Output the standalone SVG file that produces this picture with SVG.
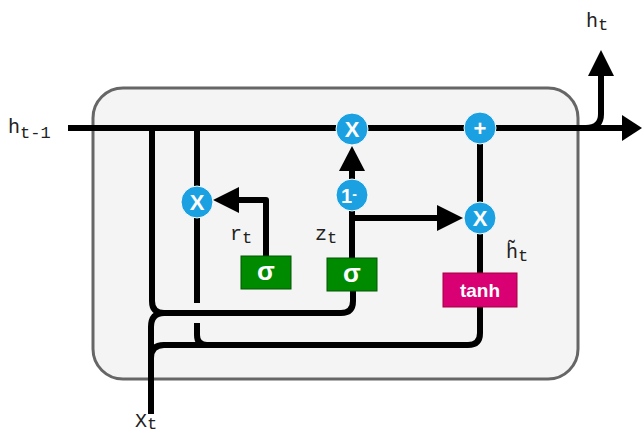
<svg xmlns="http://www.w3.org/2000/svg" width="643" height="434" viewBox="0 0 643 434">
<style>
.ln{fill:none;stroke:#000;stroke-width:6;stroke-linejoin:round}
.ah{fill:#000;stroke:none}
.op{fill:#1ba1e2;stroke:#ffffff;stroke-width:1}
.opt{fill:#fff;font-family:"Liberation Sans",Arial,sans-serif;font-weight:bold;font-size:22px;text-anchor:middle}
.sg{fill:#008a00;stroke:#005700;stroke-width:1}
.th{fill:#d80073;stroke:#a50040;stroke-width:1}
.bt{fill:#fff;font-family:"Liberation Sans",Arial,sans-serif;font-weight:bold;font-size:19px;text-anchor:middle}
.sig{font-size:26px}
.lb{fill:#222;font-family:"Liberation Mono","DejaVu Sans Mono","Courier New",monospace;font-size:20px}
.sb{font-size:17px}
</style>
<rect id="cell" x="93" y="88" width="485" height="291" rx="30" ry="30" fill="#f4f4f4" stroke="#666666" stroke-width="3"/>
<g id="connectors">
  <path class="ln" d="M68 128 H624"/>
  <polygon class="ah" points="642,128 622,115 622,141"/>
  <path class="ln" d="M586 128 Q601 128 601 114 V74"/>
  <polygon class="ah" points="601,50 588,76 614,76"/>
  <path class="ln" d="M152 128 V301 Q152 313 164 313 H341 Q353 313 353 301 V291"/>
  <path class="ln" d="M151 414 V327 Q151 313 164 313"/>
  <path class="ln" d="M151 372 V358 Q151 345 164 345 H468 Q480 345 480 333 V307"/>
  <path class="ln" d="M197 128 V186"/>
  <path class="ln" d="M197 218 V303"/>
  <path class="ln" d="M197 323 V335 Q197 345 207 345"/>
  <path class="ln" d="M266 256 V200 H236"/>
  <polygon class="ah" points="213,200 239,187 239,213"/>
  <path class="ln" d="M352 258 V211"/>
  <path class="ln" d="M352 179 V168"/>
  <polygon class="ah" points="352,146 339,171 365,171"/>
  <path class="ln" d="M352 218 H439"/>
  <polygon class="ah" points="463,218 437,205 437,231"/>
  <path class="ln" d="M480 128 V273"/>
</g>
<g id="op-mul-r"><circle class="op" cx="197" cy="202" r="16"/><text class="opt" x="197" y="210">X</text></g>
<g id="op-mul-top"><circle class="op" cx="352" cy="129" r="16"/><text class="opt" x="352" y="137">X</text></g>
<g id="op-one-minus"><circle class="op" cx="352" cy="195" r="16"/><text class="opt" x="349" y="203" style="font-size:20px">1<tspan style="font-size:14px" dy="-4">-</tspan></text></g>
<g id="op-plus"><circle class="op" cx="480" cy="128" r="16"/><text class="opt" x="480" y="136">+</text></g>
<g id="op-mul-z"><circle class="op" cx="480" cy="218" r="16"/><text class="opt" x="480" y="226">X</text></g>
<g id="sigma-r"><rect class="sg" x="241" y="256" width="50" height="33"/><text class="bt sig" x="266" y="280">σ</text></g>
<g id="sigma-z"><rect class="sg" x="327" y="258" width="50" height="33"/><text class="bt sig" x="352" y="282">σ</text></g>
<g id="tanh"><rect class="th" x="443" y="273" width="74" height="34"/><text class="bt" x="480" y="297">tanh</text></g>
<g id="labels">
  <text class="lb" x="8" y="133">h<tspan class="sb" dy="5">t-1</tspan></text>
  <text class="lb" x="586" y="27">h<tspan class="sb" dy="3">t</tspan></text>
  <text class="lb" x="230" y="240">r<tspan class="sb" dy="3">t</tspan></text>
  <text class="lb" x="315" y="240">z<tspan class="sb" dy="3">t</tspan></text>
  <text class="lb" x="506" y="258">h&#x303;<tspan class="sb" dy="3">t</tspan></text>
  <text class="lb" x="135" y="427">X<tspan class="sb" dy="2">t</tspan></text>
</g>
</svg>
